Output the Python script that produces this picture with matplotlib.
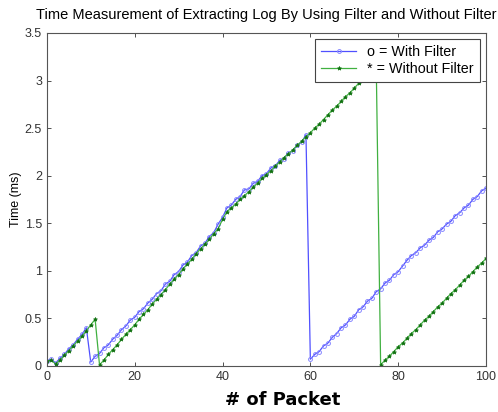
import matplotlib
matplotlib.use("Agg")
import matplotlib.pyplot as plt

plt.rcParams['font.family'] = ['Liberation Sans', 'DejaVu Sans']

packets = list(range(0, 101))

# time (ms) when extracting with the filter
with_filter = [
    0.05, 0.07, 0.03, 0.08, 0.12, 0.18, 0.22, 0.28, 0.33, 0.40,
    0.04, 0.10, 0.13, 0.19, 0.22, 0.28, 0.32, 0.38, 0.42, 0.48,
    0.51, 0.57, 0.60, 0.66, 0.70, 0.76, 0.79, 0.86, 0.89, 0.96,
    0.99, 1.06, 1.09, 1.16, 1.19, 1.26, 1.29, 1.36, 1.40, 1.49,
    1.56, 1.66, 1.69, 1.75, 1.78, 1.85, 1.86, 1.92, 1.94, 2.00,
    2.02, 2.08, 2.10, 2.16, 2.18, 2.24, 2.26, 2.32, 2.35, 2.43,
    0.07, 0.12, 0.15, 0.21, 0.24, 0.30, 0.34, 0.40, 0.43, 0.49,
    0.52, 0.59, 0.62, 0.68, 0.71, 0.78, 0.81, 0.87, 0.90, 0.96,
    0.99, 1.05, 1.11, 1.16, 1.19, 1.24, 1.27, 1.32, 1.35, 1.41,
    1.44, 1.49, 1.52, 1.58, 1.61, 1.66, 1.69, 1.75, 1.78, 1.84,
    1.87,
]

# time (ms) without the filter
without_filter = [
    0.05, 0.06, 0.02, 0.06, 0.11, 0.16, 0.21, 0.26, 0.31, 0.37,
    0.43, 0.49, 0.01, 0.06, 0.12, 0.17, 0.22, 0.28, 0.33, 0.38,
    0.43, 0.49, 0.54, 0.59, 0.65, 0.70, 0.75, 0.80, 0.86, 0.91,
    0.96, 1.02, 1.07, 1.12, 1.18, 1.23, 1.28, 1.33, 1.39, 1.44,
    1.54, 1.62, 1.66, 1.70, 1.75, 1.79, 1.83, 1.88, 1.92, 1.97,
    2.01, 2.05, 2.10, 2.14, 2.19, 2.23, 2.27, 2.32, 2.36, 2.41,
    2.45, 2.50, 2.54, 2.59, 2.64, 2.69, 2.73, 2.78, 2.83, 2.87,
    2.92, 2.97, 3.02, 3.06, 3.11, 3.16, 0.01, 0.06, 0.10, 0.15,
    0.20, 0.24, 0.29, 0.34, 0.38, 0.43, 0.48, 0.52, 0.57, 0.62,
    0.66, 0.71, 0.76, 0.80, 0.85, 0.90, 0.94, 0.99, 1.04, 1.08,
    1.13,
]

x_ticks = [0, 20, 40, 60, 80, 100]
y_ticks = [0, 0.5, 1, 1.5, 2, 2.5, 3, 3.5]
y_labels = ['0', '0.5', '1', '1.5', '2', '2.5', '3', '3.5']

fig = plt.figure(figsize=(4.98, 4.12), dpi=100)
ax = fig.add_axes([0.094, 0.112, 0.882, 0.808])

ax.plot(packets, with_filter, color='#5050ff', lw=0.9, marker='o', ms=2.8,
        mfc='none', mec='#8888ff', mew=0.7, label='o = With Filter')
ax.plot(packets, without_filter, color='#40b040', lw=0.9, marker='*', ms=3,
        mfc='#107010', mec='#107010', mew=0.5, label='* = Without Filter')

ax.set_xlim(0, 100)
ax.set_ylim(0, 3.5)
ax.set_xticks(x_ticks)
ax.set_yticks(y_ticks)
ax.set_yticklabels(y_labels)
ax.tick_params(direction='in', length=3, top=True, right=True,
               labelsize=9, colors='#333333', width=0.6)
for s in ax.spines.values():
    s.set_color('#555555')
    s.set_linewidth(0.8)

ax.set_title('Time Measurement of Extracting Log By Using Filter and Without Filter',
             fontsize=10.5, pad=10)
ax.set_ylabel('Time (ms)', fontsize=9, labelpad=2)
ax.set_xlabel('# of Packet', fontsize=13, fontweight='bold',
              family='DejaVu Sans', labelpad=5)
ax.xaxis.set_label_coords(0.537, -0.075)

leg = ax.legend(loc='upper right', fontsize=10.3, fancybox=False,
                edgecolor='#444444', framealpha=1, borderaxespad=0.4,
                handlelength=2.4, borderpad=0.45, labelspacing=0.2)
leg.get_frame().set_linewidth(0.8)

fig.savefig('out.png', dpi=100)
